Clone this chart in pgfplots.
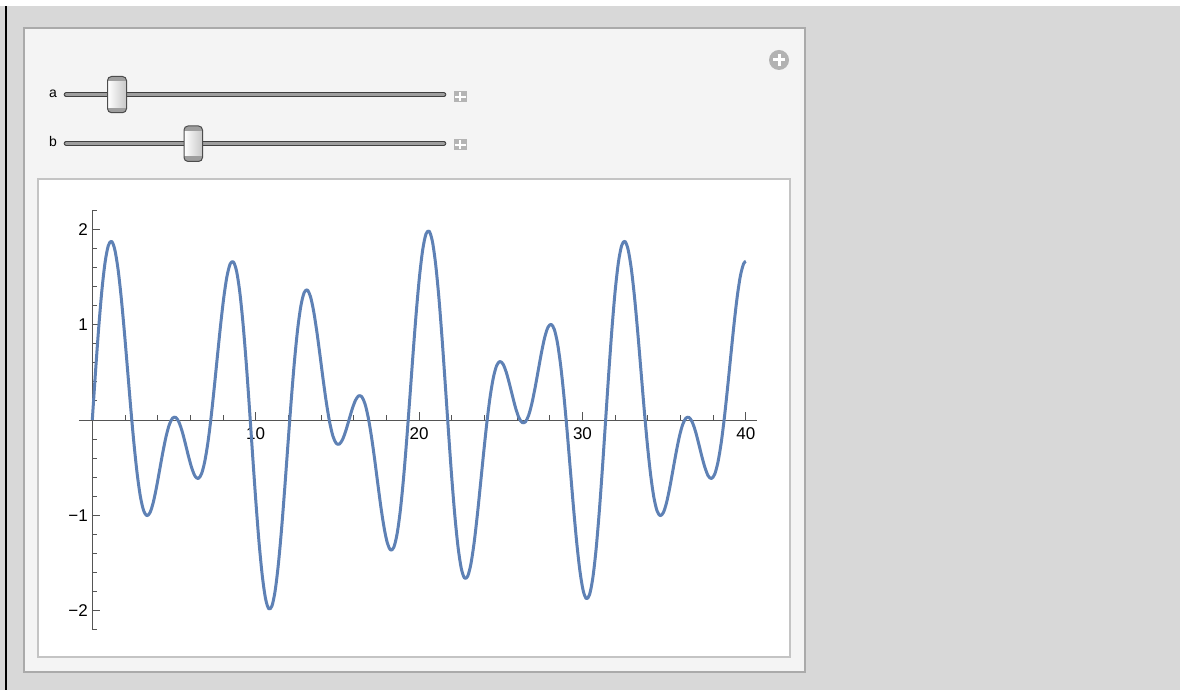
\documentclass[border=0pt]{standalone}
\usepackage{fontspec}
\setmainfont{Liberation Sans}
\usepackage{pgfplots}
\pgfplotsset{compat=1.18}
\usepackage{pgfplotstable}
\definecolor{bgc}{RGB}{216,216,216}
\definecolor{panelc}{RGB}{244,244,244}
\definecolor{panelb}{RGB}{170,170,170}
\definecolor{framec}{RGB}{196,196,196}
\definecolor{curvec}{RGB}{94,129,181}
\definecolor{axc}{RGB}{85,85,85}
\definecolor{iconc}{RGB}{180,180,180}
\pgfplotstableread{
x y
0 0
0.196 0.504
0.393 0.971
0.589 1.365
0.785 1.658
0.982 1.831
1.178 1.875
1.374 1.790
1.571 1.588
1.767 1.290
1.963 0.924
2.160 0.522
2.356 0.119
2.553 -0.253
2.749 -0.568
2.945 -0.805
3.142 -0.951
3.338 -1.004
3.534 -0.971
3.731 -0.865
3.927 -0.707
4.123 -0.522
4.320 -0.336
4.516 -0.172
4.712 -0.049
4.909 0.019
5.105 0.027
5.301 -0.022
5.498 -0.119
5.694 -0.247
5.890 -0.383
6.087 -0.504
6.283 -0.588
6.480 -0.614
6.676 -0.568
6.872 -0.444
7.069 -0.244
7.265 0.022
7.461 0.336
7.658 0.672
7.854 1.000
8.050 1.290
8.247 1.512
8.443 1.640
8.639 1.658
8.836 1.556
9.032 1.334
9.228 1.004
9.425 0.588
9.621 0.114
9.817 -0.383
10.014 -0.865
10.210 -1.295
10.407 -1.640
10.603 -1.875
10.799 -1.981
10.996 -1.951
11.192 -1.790
11.388 -1.512
11.585 -1.140
11.781 -0.707
11.977 -0.247
12.174 0.205
12.370 0.614
12.566 0.951
12.763 1.195
12.959 1.334
13.155 1.365
13.352 1.295
13.548 1.140
13.744 0.924
13.941 0.672
14.137 0.412
14.334 0.172
14.530 -0.027
14.726 -0.169
14.923 -0.244
15.119 -0.253
15.315 -0.205
15.512 -0.114
15.708 0
15.904 0.114
16.101 0.205
16.297 0.253
16.493 0.244
16.690 0.169
16.886 0.027
17.082 -0.172
17.279 -0.412
17.475 -0.672
17.671 -0.924
17.868 -1.140
18.064 -1.295
18.261 -1.365
18.457 -1.334
18.653 -1.195
18.850 -0.951
19.046 -0.614
19.242 -0.205
19.439 0.247
19.635 0.707
19.831 1.140
20.028 1.512
20.224 1.790
20.420 1.951
20.617 1.981
20.813 1.875
21.009 1.640
21.206 1.295
21.402 0.865
21.598 0.383
21.795 -0.114
21.991 -0.588
22.188 -1.004
22.384 -1.334
22.580 -1.556
22.777 -1.658
22.973 -1.640
23.169 -1.512
23.366 -1.290
23.562 -1.000
23.758 -0.672
23.955 -0.336
24.151 -0.022
24.347 0.244
24.544 0.444
24.740 0.568
24.936 0.614
25.133 0.588
25.329 0.504
25.525 0.383
25.722 0.247
25.918 0.119
26.114 0.022
26.311 -0.027
26.507 -0.019
26.704 0.049
26.900 0.172
27.096 0.336
27.293 0.522
27.489 0.707
27.685 0.865
27.882 0.971
28.078 1.004
28.274 0.951
28.471 0.805
28.667 0.568
28.863 0.253
29.060 -0.119
29.256 -0.522
29.452 -0.924
29.649 -1.290
29.845 -1.588
30.041 -1.790
30.238 -1.875
30.434 -1.831
30.631 -1.658
30.827 -1.365
31.023 -0.971
31.220 -0.504
31.416 0
31.612 0.504
31.809 0.971
32.005 1.365
32.201 1.658
32.398 1.831
32.594 1.875
32.790 1.790
32.987 1.588
33.183 1.290
33.379 0.924
33.576 0.522
33.772 0.119
33.968 -0.253
34.165 -0.568
34.361 -0.805
34.558 -0.951
34.754 -1.004
34.950 -0.971
35.147 -0.865
35.343 -0.707
35.539 -0.522
35.736 -0.336
35.932 -0.172
36.128 -0.049
36.325 0.019
36.521 0.027
36.717 -0.022
36.914 -0.119
37.110 -0.247
37.306 -0.383
37.503 -0.504
37.699 -0.588
37.895 -0.614
38.092 -0.568
38.288 -0.444
38.485 -0.244
38.681 0.022
38.877 0.336
39.074 0.672
39.270 1.000
39.466 1.290
39.663 1.512
39.859 1.640
40 1.665
}\curvedata
\begin{document}
\begin{tikzpicture}[x=1pt,y=1pt]
\useasboundingbox (0,0) rectangle (1180,690);
\fill[white] (0,0) rectangle (1180,690);
\fill[bgc] (0,0) rectangle (1180,684);
\draw[black, line width=2pt] (6,0) -- (6,684);
% panel
\filldraw[fill=panelc, draw=panelb, line width=2pt] (24,18) rectangle (805,662);
\filldraw[fill=white, draw=framec, line width=1.5pt] (38,33) rectangle (790,511);
% slider a
\node[font=\fontsize{14}{14}\selectfont, inner sep=0pt] at (53,596) {a};
\draw[line width=4.6pt, color=black!75, line cap=round] (66,595.3) -- (444,595.3);
\draw[line width=2.6pt, color=black!38, line cap=round] (66,595.3) -- (444,595.3);
\begin{scope}
\clip[rounded corners=4pt] (107.5,577.3) rectangle (126.5,613.5);
\shade[left color=white, right color=black!22] (107.5,577.3) rectangle (126.5,613.5);
\fill[black!38] (107.5,608.5) rectangle (126.5,613.5);
\fill[black!38] (107.5,577.3) rectangle (126.5,582.3);
\end{scope}
\draw[rounded corners=4pt, color=black!70, line width=1pt] (107.5,577.3) rectangle (126.5,613.5);
\fill[iconc] (453.5,587.5) rectangle (466.5,598.5);
\draw[white, line width=2pt] (460,588.5) -- (460,597.5) (454.5,593) -- (465.5,593);
% slider b
\node[font=\fontsize{14}{14}\selectfont, inner sep=0pt] at (53,548) {b};
\draw[line width=4.6pt, color=black!75, line cap=round] (66,546.7) -- (444,546.7);
\draw[line width=2.6pt, color=black!38, line cap=round] (66,546.7) -- (444,546.7);
\begin{scope}
\clip[rounded corners=4pt] (184,528.5) rectangle (202.5,564);
\shade[left color=white, right color=black!22] (184,528.5) rectangle (202.5,564);
\fill[black!38] (184,559) rectangle (202.5,564);
\fill[black!38] (184,528.5) rectangle (202.5,533.5);
\end{scope}
\draw[rounded corners=4pt, color=black!70, line width=1pt] (184,528.5) rectangle (202.5,564);
\fill[iconc] (453.5,539.5) rectangle (466.5,550.5);
\draw[white, line width=2pt] (460,540.5) -- (460,549.5) (454.5,545) -- (465.5,545);
% circle plus
\fill[black!30] (779,630) circle (10);
\draw[white, line width=3pt] (773,630) -- (785,630) (779,624) -- (779,636);
\begin{axis}[
  at={(92.3pt,270pt)}, anchor=origin,
  scale only axis, width=678.1pt, height=419.3pt,
  xmin=-0.82, xmax=40.68, ymin=-2.2, ymax=2.2,
  axis lines=middle,
  axis line style={-, draw=axc, line width=0.9pt},
  xtick={10,20,30,40}, xticklabels={10,20,30,40},
  minor xtick={2,4,6,8,12,14,16,18,22,24,26,28,32,34,36,38},
  ytick={-2,-1,1,2}, yticklabels={−2,−1,1,2},
  minor ytick={-2.2,-1.8,-1.6,-1.4,-1.2,-0.8,-0.6,-0.4,-0.2,0.2,0.4,0.6,0.8,1.2,1.4,1.6,1.8,2.2},
  tick align=inside,
  major tick length=8pt, minor tick length=4.5pt,
  tick style={draw=axc, line width=0.9pt},
  ticklabel style={font=\fontsize{17}{17}\selectfont, text=black},
  xticklabel style={yshift=-4pt},
  yticklabel style={xshift=-1pt},
  clip=false,
]
\addplot[curvec, line width=3pt, smooth, line join=round] table[x=x, y=y] {\curvedata};
\end{axis}
\end{tikzpicture}
\end{document}
